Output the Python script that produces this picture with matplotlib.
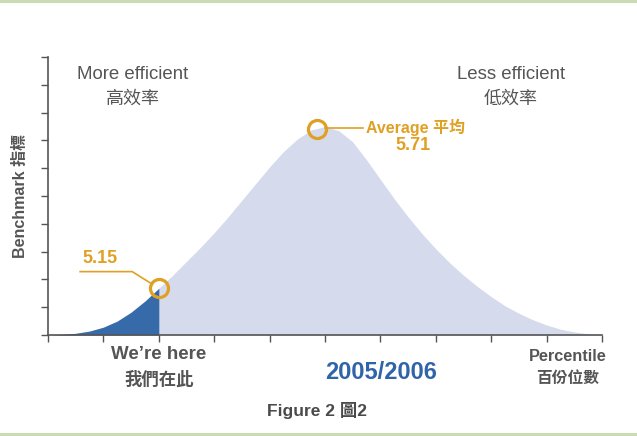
import matplotlib
matplotlib.use("Agg")
import matplotlib.pyplot as plt
from matplotlib.lines import Line2D

plt.rcParams['font.family'] = ['Liberation Sans', 'Noto Sans CJK TC', 'DejaVu Sans']

# curve (percentile position, benchmark height)
pos = [0.0, 0.25, 0.5, 0.75, 1.0, 1.25, 1.5, 1.75, 2.0, 2.25, 2.5, 2.75, 3.0,
       3.25, 3.5, 3.75, 4.0, 4.25, 4.5, 4.75, 5.0, 5.25, 5.5, 5.75, 6.0, 6.25,
       6.5, 6.75, 7.0, 7.25, 7.5, 7.75, 8.0, 8.25, 8.5, 8.75, 9.0, 9.25, 9.5,
       9.75, 10.0]
height = [0.0, 0.02, 0.06, 0.14, 0.28, 0.5, 0.82, 1.22, 1.68, 2.15, 2.65, 3.15, 3.68,
          4.25, 4.85, 5.45, 6.05, 6.6, 7.05, 7.38, 7.5, 7.35, 6.95, 6.3, 5.6, 4.9,
          4.25, 3.65, 3.1, 2.6, 2.15, 1.75, 1.38, 1.05, 0.78, 0.55, 0.36, 0.21, 0.11,
          0.04, 0.0]
here_idx = 8          # "We're here" point
here_value = "5.15"
avg_pos, avg_height = 4.86, 7.41
avg_value = "5.71"

dark_blue = '#376aa9'
light_blue = '#d5dbec'
gold = '#e0a024'
grey = '#555555'

fig = plt.figure(figsize=(6.37, 4.36), dpi=100)
ax = fig.add_axes([0.0754, 0.2317, 0.8696, 0.6373])

ax.fill_between(pos, height, color=light_blue, lw=0)
ax.fill_between(pos[:here_idx + 1], height[:here_idx + 1], color=dark_blue, lw=0)

ax.set_xlim(0, 10)
ax.set_ylim(0, 10)
ax.set_xticks(range(11))
ax.set_yticks(range(11))
ax.set_xticklabels([])
ax.set_yticklabels([])
ax.tick_params(colors=grey, length=5, width=1)
for s in ['top', 'right']:
    ax.spines[s].set_visible(False)
for s in ['left', 'bottom']:
    ax.spines[s].set_color(grey)
    ax.spines[s].set_linewidth(1.2)

# markers
hx, hy = pos[here_idx], height[here_idx]
ax.plot([hx], [hy], 'o', ms=13, mfc='none', mec=gold, mew=2.3, zorder=5, clip_on=False)
ax.plot([avg_pos], [avg_height], 'o', ms=13, mfc='none', mec=gold, mew=2.3, zorder=5)

# leader lines
ax.plot([0.58, 1.52, 1.88], [2.28, 2.28, 1.83], color=gold, lw=1.2)
ax.plot([5.0, 5.68], [7.45, 7.45], color=gold, lw=1.2)

ax.text(0.63, 2.45, here_value, color=gold, fontsize=13, fontweight='bold', ha='left', va='bottom')
ax.text(5.74, 7.48, 'Average 平均', color=gold, fontsize=11.5, fontweight='bold', ha='left', va='center')
ax.text(6.59, 6.82, avg_value, color=gold, fontsize=13, fontweight='bold', ha='center', va='center')

ax.text(1.53, 9.37, 'More efficient', color=grey, fontsize=13.4, ha='center', va='center')
ax.text(1.53, 8.47, '高效率', color=grey, fontsize=13, ha='center', va='center')
ax.text(8.36, 9.37, 'Less efficient', color=grey, fontsize=13.4, ha='center', va='center')
ax.text(8.36, 8.47, '低效率', color=grey, fontsize=13, ha='center', va='center')

ax.set_ylabel('Benchmark 指標', color=grey, fontsize=11.5, fontweight='bold', labelpad=6)

fig.text(159 / 637, 1 - 354 / 436, 'We\u2019re here', color=grey, fontsize=13.5, fontweight='bold', ha='center', va='center')
fig.text(159 / 637, 1 - 379 / 436, '我們在此', color=grey, fontsize=12.5, fontweight='bold', ha='center', va='center')
fig.text(381 / 637, 1 - 372 / 436, '2005/2006', color='#2f64a8', fontsize=17, fontweight='bold', ha='center', va='center')
fig.text(568 / 637, 1 - 356 / 436, 'Percentile', color=grey, fontsize=11.7, fontweight='bold', ha='center', va='center')
fig.text(568 / 637, 1 - 378 / 436, '百份位數', color=grey, fontsize=11.3, fontweight='bold', ha='center', va='center')
fig.text(317 / 637, 1 - 410 / 436, 'Figure 2 圖2', color='#4a4a4a', fontsize=12.5, fontweight='heavy', ha='center', va='center')

# green rules at top and bottom
for yy in [1 - 1.5 / 436, 1 - 433.5 / 436]:
    fig.add_artist(Line2D([0, 1], [yy, yy], transform=fig.transFigure, color='#c9dcb2', lw=2.2))

fig.savefig('out.png', dpi=100)
